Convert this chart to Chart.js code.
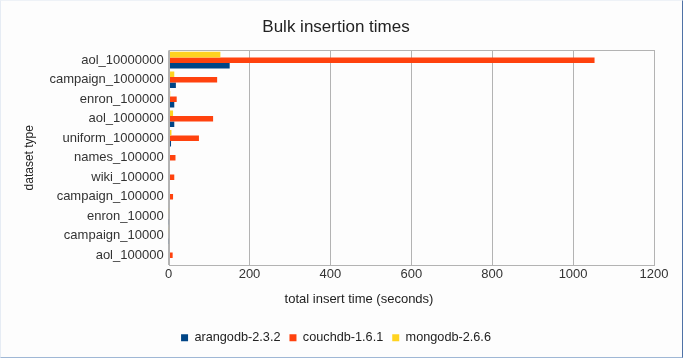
<!DOCTYPE html>
<html><head><meta charset="utf-8">
<script src="https://cdn.jsdelivr.net/npm/chart.js@4/dist/chart.umd.min.js"></script>
<style>html,body{margin:0;padding:0;background:#fff}#w{width:683px;height:358px;box-sizing:border-box;border-style:solid;border-width:1px 1px 1px 1px;border-color:#eef2f7 #4f72a6 #9fb7d5 #e6ecf4;background:#fdfdfd}canvas{display:block}</style>
</head><body><div id="w"><canvas id="c" width="681" height="356"></canvas></div>
<script>
const categories = ["aol_10000000","campaign_1000000","enron_100000","aol_1000000","uniform_1000000","names_100000","wiki_100000","campaign_100000","enron_10000","campaign_10000","aol_100000"];
const arangodb = [151, 18, 14, 14, 6, 1.5, 1.2, 1, 0.4, 0.3, 1];
const couchdb = [1053, 120, 20, 110, 75, 17, 14, 11, 3, 1.5, 10];
const mongodb = [128, 14, 4, 11, 7, 2, 1.5, 1.5, 0.5, 0.5, 1.5];
const xTicks = [0, 200, 400, 600, 800, 1000, 1200];
const xTitle = 'total insert time (seconds)';

const frame = {id:'frame', afterDatasetsDraw(ch){const a=ch.chartArea,c=ch.ctx;c.save();c.strokeStyle='#b3b3b3';c.lineWidth=1;c.strokeRect(Math.round(a.left)+0.5,Math.round(a.top)+0.5,Math.round(a.right-a.left),Math.round(a.bottom-a.top));
  const t=ch.scales.x; c.fillStyle='#222'; c.font='13px "Liberation Sans"'; c.textAlign='center'; c.textBaseline='middle';
  c.fillText(xTitle, 358, t.bottom - 23); c.restore();}};

new Chart(document.getElementById('c'), {
  type: 'bar',
  data: {
    labels: categories,
    datasets: [
      {label:'mongodb-2.6.6', data: mongodb, backgroundColor:'#ffd320'},
      {label:'couchdb-1.6.1', data: couchdb, backgroundColor:'#ff420e'},
      {label:'arangodb-2.3.2', data: arangodb, backgroundColor:'#004586'}
    ]
  },
  plugins:[frame],
  options: {
    indexAxis: 'y',
    responsive: false,
    animation: false,
    datasets: {bar: {categoryPercentage: 0.85, barPercentage: 1}},
    layout: {padding: {left: 17, right: 28, top: 4, bottom: 3}},
    scales: {
      x: {
        min: 0, max: 1200,
        afterBuildTicks(ax){ ax.ticks = xTicks.map(v=>({value:v})); },
        grid: {color:'#b3b3b3', drawTicks:false},
        border: {display:false},
        ticks: {color:'#333', font:{family:'Liberation Sans', size:13}, padding:2, callback:(v)=>String(v)},
        title: {display:true, text:xTitle, color:'rgba(0,0,0,0)', font:{family:'Liberation Sans', size:13}, padding:{top:4, bottom:18}}
      },
      y: {
        grid: {display:false, drawTicks:false},
        border: {display:false},
        ticks: {color:'#333', font:{family:'Liberation Sans', size:13}, padding:5},
        title: {display:true, text:'dataset type', color:'#222', font:{family:'Liberation Sans', size:12}, padding:{bottom:8}}
      }
    },
    plugins: {
      title: {display:true, text:'Bulk insertion times', color:'#222', font:{family:'Liberation Sans', size:17, weight:'normal'}, padding:{top:12,bottom:13}},
      legend: {position:'bottom', reverse:true, labels:{boxWidth:7, boxHeight:7, color:'#222', font:{family:'Liberation Sans', size:12.7}, padding:9}},
      tooltip: {enabled:false}
    }
  }
});
</script></body></html>
